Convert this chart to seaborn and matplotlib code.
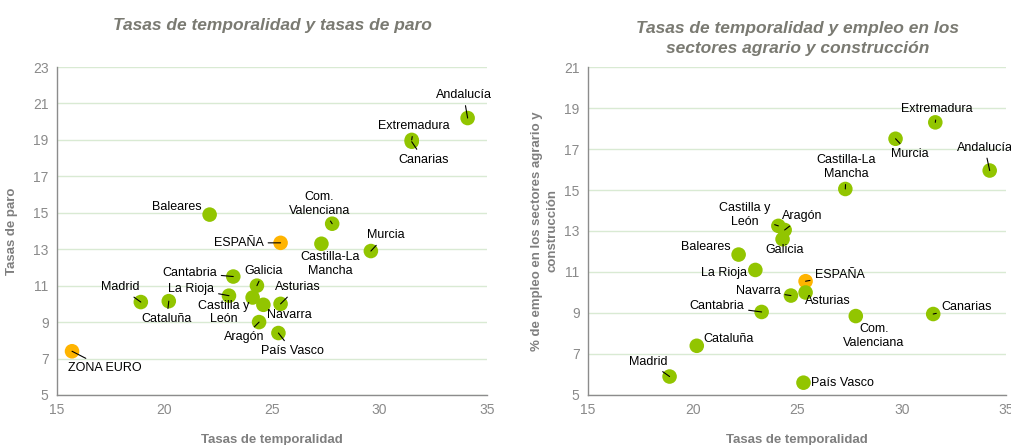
import numpy as np
import pandas as pd
import matplotlib
matplotlib.use("Agg")
import matplotlib.pyplot as plt
import seaborn as sns

# data: left chart (temporalidad vs paro)
paro_names = ['Andalucía', 'Extremadura', 'Canarias', 'Baleares', 'Com.\nValenciana',
              'ESPAÑA', 'Castilla-La\nMancha', 'Murcia', 'Cantabria', 'Galicia',
              'La Rioja', 'Castilla y\nLeón', 'Madrid', 'Cataluña', 'Asturias',
              'Navarra', 'Aragón', 'País Vasco', 'ZONA EURO']
paro_temp = [34.1, 31.5, 31.5, 22.1, 27.8, 25.4, 27.3, 29.6, 23.2, 24.3,
             23.0, 24.1, 18.9, 20.2, 25.4, 24.6, 24.4, 25.3, 15.7]
paro_val = [20.2, 19.0, 18.9, 14.9, 14.4, 13.35, 13.3, 12.9, 11.5, 11.0,
            10.45, 10.35, 10.1, 10.15, 10.0, 9.95, 9.0, 8.4, 7.4]

# data: right chart (temporalidad vs empleo agrario y construccion)
emp_names = ['Extremadura', 'Murcia', 'Andalucía', 'Castilla-La\nMancha', 'Castilla y\nLeón',
             'Aragón', 'Galicia', 'Baleares', 'La Rioja', 'ESPAÑA', 'Navarra', 'Asturias',
             'Cantabria', 'Com.\nValenciana', 'Canarias', 'Cataluña', 'Madrid', 'País Vasco']
emp_temp = [31.6, 29.7, 34.2, 27.3, 24.1, 24.4, 24.3, 22.2, 23.0, 25.4, 24.7, 25.4,
            23.3, 27.8, 31.5, 20.2, 18.9, 25.3]
emp_val = [18.3, 17.5, 15.95, 15.05, 13.25, 13.05, 12.6, 11.85, 11.1, 10.55, 9.85, 10.0,
           9.05, 8.85, 8.95, 7.4, 5.9, 5.6]

highlight = ['ESPAÑA', 'ZONA EURO']

# label offsets in pixels (dx, dy, leader line)
paro_off = {
    'Andalucía': (-4, 23, True), 'Extremadura': (2, 14, True), 'Canarias': (12, -18, True),
    'Baleares': (-33, 8, False), 'Com.\nValenciana': (-13, 20, True), 'ESPAÑA': (-42, 0, True),
    'Castilla-La\nMancha': (9, -20, False), 'Murcia': (15, 16, True), 'Cantabria': (-44, 4, True),
    'Galicia': (7, 15, True), 'La Rioja': (-38, 7, True), 'Castilla y\nLeón': (-29, -15, False),
    'Madrid': (-21, 15, True), 'Cataluña': (-2, -18, True), 'Asturias': (17, 17, True),
    'Navarra': (26, -10, False), 'Aragón': (-15, -15, True), 'País Vasco': (14, -18, True),
    'ZONA EURO': (33, -17, True)}
emp_off = {
    'Extremadura': (2, 13, True), 'Murcia': (14, -15, True), 'Andalucía': (-5, 23, True),
    'Castilla-La\nMancha': (1, 22, True), 'Castilla y\nLeón': (-34, 11, True), 'Aragón': (18, 14, True),
    'Galicia': (2, -11, False), 'Baleares': (-33, 8, False), 'La Rioja': (-31, -3, False),
    'ESPAÑA': (34, 6, True), 'Navarra': (-33, 5, True), 'Asturias': (22, -9, False),
    'Cantabria': (-45, 6, True), 'Com.\nValenciana': (18, -20, False), 'Canarias': (33, 7, True),
    'Cataluña': (32, 7, False), 'Madrid': (-21, 15, True), 'País Vasco': (39, 0, False)}

green = '#92c500'
orange = '#ffb400'
grey = '#7f7f7f'

df_paro = pd.DataFrame({'name': paro_names, 'x': paro_temp, 'y': paro_val})
df_paro['grupo'] = np.where(df_paro['name'].isin(highlight), 'ref', 'ccaa')
df_emp = pd.DataFrame({'name': emp_names, 'x': emp_temp, 'y': emp_val})
df_emp['grupo'] = np.where(df_emp['name'].isin(highlight), 'ref', 'ccaa')

sns.set_style("white")
plt.rcParams['font.family'] = ['Liberation Sans', 'DejaVu Sans']

fig = plt.figure(figsize=(10.12, 4.45), dpi=100)
ax1 = fig.add_axes([0.0563, 0.1124, 0.4249, 0.737])
ax2 = fig.add_axes([0.581, 0.1124, 0.4135, 0.737])


def draw(ax, df, offsets, ylim, yticks, title, ylabel, tpad, ypad):
    for yt in yticks:
        ax.axhline(yt, color='#d9ead3', lw=1, zorder=0)
    sns.scatterplot(data=df, x='x', y='y', hue='grupo', palette={'ccaa': green, 'ref': orange},
                    s=110, edgecolor='none', legend=False, ax=ax, zorder=3)
    for _, r in df.iterrows():
        dx, dy, line = offsets[r['name']]
        ax.annotate(r['name'], (r['x'], r['y']), xytext=(dx, dy), textcoords='offset pixels',
                    ha='center', va='center', fontsize=9, color='black', multialignment='center',
                    arrowprops=dict(arrowstyle='-', color='black', lw=0.8, shrinkA=1, shrinkB=0) if line else None,
                    zorder=4)
    ax.set_xlim(15, 35)
    ax.set_ylim(*ylim)
    ax.set_xticks([15, 20, 25, 30, 35])
    ax.set_yticks(yticks)
    ax.tick_params(length=0, labelsize=10, labelcolor='#8a8a8a', pad=6)
    for s in ['top', 'right']:
        ax.spines[s].set_visible(False)
    for s in ['left', 'bottom']:
        ax.spines[s].set_color('#8c8c8c')
        ax.spines[s].set_linewidth(1)
    ax.set_xlabel('Tasas de temporalidad', fontsize=9.5, fontweight='bold', color=grey, labelpad=12)
    ax.set_ylabel(ylabel, fontsize=9.5, fontweight='bold', color=grey, labelpad=ypad, linespacing=1.35)
    ax.set_title(title, fontsize=12.5, fontweight='bold', style='italic', color='#7a7a72',
                 pad=tpad, linespacing=1.4)


draw(ax1, df_paro, paro_off, (5, 23), list(range(5, 24, 2)),
     'Tasas de temporalidad y tasas de paro', 'Tasas de paro', 27, 11)
draw(ax2, df_emp, emp_off, (5, 21), list(range(5, 22, 2)),
     'Tasas de temporalidad y empleo en los\nsectores agrario y construcción',
     '% de empleo en los sectores agrario y\nconstrucción', 10, 4)

fig.savefig('out.png', dpi=100)
